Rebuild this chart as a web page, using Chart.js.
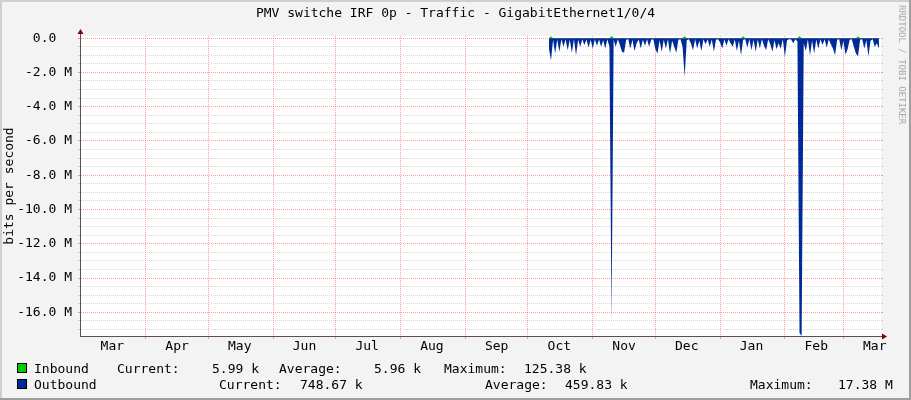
<!DOCTYPE html>
<html>
<head>
<meta charset="utf-8">
<script src="https://cdn.jsdelivr.net/npm/chart.js@4.4.1/dist/chart.umd.min.js"></script>
<style>
    html, body { margin: 0; padding: 0; background: #f3f3f3; }
    #wrap { width: 911px; height: 400px; }
</style>
</head>
<body>
<div id="wrap"><canvas id="myChart" width="911" height="400"></canvas></div>
<script>
// x axis in days, day 0 = 1 March
const monthNames = ['Mar', 'Apr', 'May', 'Jun', 'Jul', 'Aug', 'Sep', 'Oct', 'Nov', 'Dec', 'Jan', 'Feb', 'Mar'];
const monthStartDays = [0, 31, 61, 92, 122, 153, 184, 214, 245, 275, 306, 337, 365];
const lastDay = 383;

// y axis in M bits/s (outbound is drawn below zero)
const yMajorTicks = [0, -2, -4, -6, -8, -10, -12, -14, -16];
const yMin = -17.38;
const yMax = 0.12538;

// daily values from day 224 (10 Oct) to day 382
const startDay = 224;
const outboundM = [
    0.6, 1.3, 0.1, 0.9, 0.08, 0.8, 0.06, 0.5, 0.06, 0.7,
    0.1, 0.85, 0.06, 1.0, 0.1, 0.5, 0.06, 0.4, 0.08, 0.55,
    0.1, 0.6, 0.06, 0.45, 0.08, 0.5, 0.12, 0.6, 0.06, 0.5,
    16.5, 0.1, 0.5, 0.06, 0.4, 0.8, 0.85, 0.1, 0.06, 0.6,
    0.1, 0.75, 0.3, 0.08, 0.6, 0.1, 0.45, 0.06, 0.5, 0.1,
    0.06, 0.65, 0.9, 0.12, 0.8, 0.1, 0.6, 0.06, 0.9, 0.15,
    0.5, 0.85, 0.1, 0.06, 0.5, 2.25, 0.12, 0.06, 0.3, 0.7,
    0.06, 0.6, 0.15, 0.75, 0.06, 0.35, 0.06, 0.5, 0.08, 0.8,
    0.1, 0.06, 0.25, 0.6, 0.06, 0.45, 0.06, 0.3, 0.5, 0.08,
    0.75, 0.15, 1.0, 0.1, 0.06, 0.55, 0.06, 0.7, 0.1, 0.8,
    0.08, 0.6, 0.06, 0.45, 0.7, 0.06, 0.35, 0.8, 0.12, 0.65,
    0.3, 0.6, 0.06, 1.1, 0.12, 0.06, 0.08, 0.3, 0.06, 0.2,
    17.2, 17.38, 0.3, 0.75, 0.08, 1.0, 0.15, 0.9, 0.1, 0.6,
    0.06, 0.4, 0.06, 0.55, 0.08, 0.35, 0.6, 1.0, 0.1, 0.06,
    0.7, 0.15, 0.95, 0.65, 0.1, 0.06, 0.5, 0.9, 1.05, 0.1,
    0.06, 0.6, 0.12, 1.05, 0.15, 0.06, 0.5, 0.3, 0.6
];
// inbound in k bits/s
const inboundK = [
    6.0, 110, 6.0, 5.9, 6.0, 6.0, 5.9, 6.0, 6.0, 6.0,
    6.0, 5.9, 6.0, 6.0, 6.0, 5.9, 6.0, 6.0, 6.0, 6.0,
    5.9, 6.0, 6.0, 6.0, 5.9, 6.0, 6.0, 6.0, 6.0, 6.0,
    125.38, 6.0, 5.9, 6.0, 6.0, 6.0, 5.9, 6.0, 6.0, 6.0,
    6.0, 6.0, 5.9, 6.0, 6.0, 6.0, 6.0, 5.9, 6.0, 6.0,
    6.0, 6.0, 6.0, 5.9, 6.0, 6.0, 6.0, 6.0, 6.0, 5.9,
    6.0, 6.0, 6.0, 6.0, 6.0, 118, 6.0, 5.9, 6.0, 6.0,
    6.0, 6.0, 5.9, 6.0, 6.0, 6.0, 6.0, 6.0, 5.9, 6.0,
    6.0, 6.0, 6.0, 6.0, 5.9, 6.0, 6.0, 6.0, 6.0, 6.0,
    5.9, 6.0, 6.0, 115, 6.0, 6.0, 6.0, 5.9, 6.0, 6.0,
    6.0, 6.0, 6.0, 5.9, 6.0, 6.0, 6.0, 6.0, 6.0, 5.9,
    6.0, 6.0, 6.0, 6.0, 5.9, 6.0, 6.0, 6.0, 6.0, 6.0,
    120, 6.0, 6.0, 5.9, 6.0, 6.0, 6.0, 6.0, 5.9, 6.0,
    6.0, 6.0, 6.0, 6.0, 6.0, 5.9, 6.0, 6.0, 6.0, 6.0,
    6.0, 5.9, 6.0, 6.0, 6.0, 6.0, 6.0, 6.0, 112, 6.0,
    6.0, 5.9, 6.0, 6.0, 6.0, 6.0, 5.99, 6.0, 5.99
];

const legendRows = [
    ['Inbound', 'Current:', '5.99 k', 'Average:', '5.96 k', 'Maximum:', '125.38 k'],
    ['Outbound', 'Current:', '748.67 k', 'Average:', '459.83 k', 'Maximum:', '17.38 M']
];
const legendColors = ['#00cc00', '#002a97'];

const MONO = '"DejaVu Sans Mono", monospace';
const majorGrid = 'rgba(255, 0, 0, 0.38)';
const minorGrid = 'rgba(128, 128, 128, 0.32)';

// ticks: month starts carry the grid, mid-months carry the names
const boundaryDays = monthStartDays.slice(1);
const labelDays = monthStartDays.map(d => d + 15);
const xTickValues = boundaryDays.concat(labelDays).sort((a, b) => a - b);

const yTickValues = [];
for (let v = 0; v >= -17; v -= 0.5) { yTickValues.push(v); }

function isMajor(v) { return yMajorTicks.indexOf(v) !== -1; }
function isBoundary(v) { return boundaryDays.indexOf(v) !== -1; }

function yLabel(v) {
    if (!isMajor(v)) return '';
    if (v === 0) return '0.0  ';
    return v.toFixed(1) + ' M';
}

const outData = outboundM.map((v, i) => ({ x: startDay + i, y: -v }));
const inData = inboundK.map((v, i) => ({ x: startDay + i, y: v / 1000 }));

const rrdFrame = {
    id: 'rrdFrame',
    beforeDraw(chart) {
        const { ctx, width, height, chartArea: a } = chart;
        ctx.save();
        ctx.fillStyle = '#f3f3f3';
        ctx.fillRect(0, 0, width, height);
        ctx.fillStyle = '#cfcfcf';
        ctx.fillRect(0, 0, width, 2);
        ctx.fillRect(0, 0, 2, height);
        ctx.fillStyle = '#9e9e9e';
        ctx.fillRect(0, height - 2, width, 2);
        ctx.fillRect(width - 2, 0, 2, height);
        ctx.fillStyle = '#ffffff';
        ctx.fillRect(a.left, a.top, a.right - a.left, a.bottom - a.top);
        ctx.restore();
    },
    afterDraw(chart) {
        const { ctx, chartArea: a } = chart;
        ctx.save();
        // axes with arrows
        ctx.strokeStyle = '#5e4e4e';
        ctx.lineWidth = 1;
        ctx.beginPath();
        ctx.moveTo(a.left - 0.5, a.top - 2);
        ctx.lineTo(a.left - 0.5, a.bottom + 1);
        ctx.moveTo(a.left - 1, a.bottom + 0.5);
        ctx.lineTo(a.right + 3, a.bottom + 0.5);
        ctx.stroke();
        ctx.fillStyle = '#7f0000';
        ctx.beginPath();
        ctx.moveTo(a.left - 0.5, a.top - 7);
        ctx.lineTo(a.left - 3.5, a.top - 2);
        ctx.lineTo(a.left + 2.5, a.top - 2);
        ctx.closePath();
        ctx.fill();
        ctx.beginPath();
        ctx.moveTo(a.right + 6, a.bottom + 0.5);
        ctx.lineTo(a.right + 1, a.bottom - 2.5);
        ctx.lineTo(a.right + 1, a.bottom + 3.5);
        ctx.closePath();
        ctx.fill();

        // legend
        const xs = [[34, 117, 212, 279, 374, 444, 524], [34, 219, 300, 485, 565, 750, 838]];
        const ys = [373, 389];
        ctx.font = '13px ' + MONO;
        ctx.textBaseline = 'alphabetic';
        ctx.textAlign = 'left';
        legendRows.forEach((row, r) => {
            ctx.fillStyle = legendColors[r];
            ctx.fillRect(17, ys[r] - 10, 10, 10);
            ctx.strokeStyle = '#000';
            ctx.strokeRect(17.5, ys[r] - 9.5, 9, 9);
            ctx.fillStyle = '#000';
            row.forEach((txt, c) => { ctx.fillText(txt, xs[r][c], ys[r]); });
        });

        // watermark
        ctx.translate(899, 5);
        ctx.rotate(Math.PI / 2);
        ctx.font = '9px ' + MONO;
        ctx.fillStyle = '#a8a8a8';
        ctx.fillText('RRDTOOL / TOBI OETIKER', 0, 0);
        ctx.restore();
    }
};

var ctx = document.getElementById('myChart');
var myChart = new Chart(ctx, {
    type: 'line',
    data: {
        datasets: [
            {
                label: 'Outbound',
                data: outData,
                backgroundColor: '#002a97',
                borderColor: 'rgba(0,0,0,0)',
                borderWidth: 0,
                pointRadius: 0,
                fill: 'origin',
                tension: 0
            },
            {
                label: 'Inbound',
                data: inData,
                backgroundColor: '#00cc00',
                borderColor: 'rgba(0,0,0,0)',
                borderWidth: 0,
                pointRadius: 0,
                fill: 'origin',
                tension: 0
            }
        ]
    },
    options: {
        responsive: false,
        animation: false,
        devicePixelRatio: 1,
        layout: { padding: 0 },
        plugins: {
            legend: { display: false },
            tooltip: { enabled: false },
            title: {
                display: true,
                text: 'PMV switche IRF 0p - Traffic - GigabitEthernet1/0/4',
                color: '#000',
                font: { family: MONO, size: 13, weight: 'normal' },
                padding: { top: 6, bottom: 14.4 }
            }
        },
        scales: {
            x: {
                type: 'linear',
                min: 0,
                max: lastDay,
                afterBuildTicks: (s) => { s.ticks = xTickValues.map(v => ({ value: v })); },
                afterFit: (s) => { s.height = 64; },
                ticks: {
                    autoSkip: false,
                    maxRotation: 0,
                    padding: 0,
                    color: '#000',
                    font: { family: MONO, size: 13 },
                    callback: (v) => {
                        const i = labelDays.indexOf(v);
                        return i === -1 ? '' : monthNames[i];
                    }
                },
                grid: {
                    color: majorGrid,
                    tickColor: majorGrid,
                    lineWidth: (c) => (c.tick && isBoundary(c.tick.value)) ? 1 : 0,
                    tickWidth: (c) => (c.tick && isBoundary(c.tick.value)) ? 1 : 0,
                    tickLength: 3
                },
                border: { display: false, dash: [1, 1] }
            },
            y: {
                type: 'linear',
                min: yMin,
                max: yMax,
                afterBuildTicks: (s) => { s.ticks = yTickValues.map(v => ({ value: v })); },
                afterFit: (s) => { s.width = 81; },
                ticks: {
                    autoSkip: false,
                    padding: 6,
                    color: '#000',
                    font: { family: MONO, size: 13 },
                    callback: (v) => yLabel(v)
                },
                grid: {
                    color: (c) => (c.tick && isMajor(c.tick.value)) ? majorGrid : minorGrid,
                    tickColor: (c) => (c.tick && isMajor(c.tick.value)) ? majorGrid : minorGrid,
                    tickLength: 3
                },
                border: { display: false, dash: [1, 1] },
                title: {
                    display: true,
                    text: 'bits per second',
                    color: '#000',
                    font: { family: MONO, size: 13 },
                    padding: { top: 2, bottom: 0 }
                }
            },
            y2: {
                type: 'linear',
                position: 'right',
                min: yMin,
                max: yMax,
                afterBuildTicks: (s) => { s.ticks = yTickValues.map(v => ({ value: v })); },
                afterFit: (s) => { s.width = 30; },
                ticks: { display: false, autoSkip: false },
                grid: {
                    drawOnChartArea: false,
                    tickColor: (c) => (c.tick && isMajor(c.tick.value)) ? majorGrid : minorGrid,
                    tickLength: 2
                },
                border: { display: false }
            }
        }
    },
    plugins: [rrdFrame]
});
</script>
</body>
</html>
